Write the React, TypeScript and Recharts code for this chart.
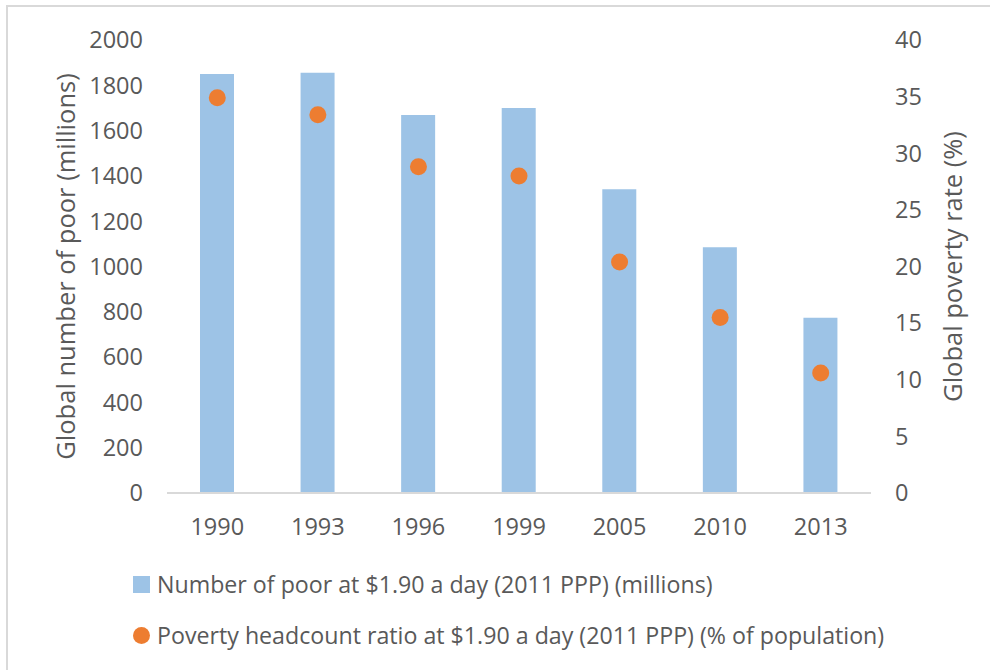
import React from "react"
import { ComposedChart, Bar, Line, XAxis, YAxis, Label } from "recharts"

const years = ["1990", "1993", "1996", "1999", "2005", "2010", "2013"]
const poorMillions = [1850, 1855, 1669, 1700, 1341, 1085, 774]
const povertyRate = [34.9, 33.4, 28.8, 28.0, 20.4, 15.5, 10.6]

const leftTicks = [0, 200, 400, 600, 800, 1000, 1200, 1400, 1600, 1800, 2000]
const rightTicks = [0, 5, 10, 15, 20, 25, 30, 35, 40]

const barName = "Number of poor at $1.90 a day (2011 PPP) (millions)"
const dotName = "Poverty headcount ratio at $1.90 a day (2011 PPP) (% of population)"

const BAR_COLOR = "#9DC3E6"
const DOT_COLOR = "#ED7D31"
const TEXT_COLOR = "#595959"
const FONT = "'Open Sans', sans-serif"

const data = years.map((year, i) => ({
  year,
  poor: poorMillions[i],
  rate: povertyRate[i],
}))

const tickStyle = { fill: TEXT_COLOR, fontSize: 23.5, fontFamily: FONT }

// rotated axis title, placed relative to the axis box
function axisTitle(text: string, shift: number) {
  return (props: any) => {
    const vb = props.viewBox || {}
    const cx = vb.x + shift
    const cy = vb.y + vb.height / 2
    return (
      <text
        x={cx}
        y={cy}
        transform={`rotate(-90 ${cx} ${cy})`}
        textAnchor="middle"
        dominantBaseline="central"
        fill={TEXT_COLOR}
        fontSize={25.5}
        fontFamily={FONT}
      >
        {text}
      </text>
    )
  }
}

function Dot(props: any) {
  const { cx, cy } = props
  if (cx == null || cy == null) return null
  return <circle cx={cx} cy={cy} r={8.5} fill={DOT_COLOR} />
}

export default function App() {
  return (
    <div
      style={{
        position: "absolute",
        left: 0,
        top: 0,
        width: 992,
        height: 670,
        background: "#fff",
        fontFamily: FONT,
      }}
    >
      <div
        style={{
          position: "absolute",
          left: 6,
          top: 5,
          width: 982,
          height: 670,
          borderTop: "2px solid #D9D9D9",
          borderLeft: "2px solid #D9D9D9",
        }}
      />
      <ComposedChart
        width={992}
        height={670}
        data={data}
        margin={{ top: 40, right: 21, left: 67, bottom: 117 }}
        style={{ position: "absolute", left: 0, top: 0 }}
      >
        <XAxis
          dataKey="year"
          tick={tickStyle}
          tickLine={false}
          tickMargin={19}
          axisLine={{ stroke: "#D9D9D9", strokeWidth: 2 }}
          height={60}
        />
        <YAxis
          yAxisId="left"
          domain={[0, 2000]}
          ticks={leftTicks}
          interval={0}
          tick={tickStyle}
          tickLine={false}
          axisLine={false}
          tickMargin={18}
          width={100}
        >
          <Label content={axisTitle("Global number of poor (millions)", -2)} />
        </YAxis>
        <YAxis
          yAxisId="right"
          orientation="right"
          domain={[0, 40]}
          ticks={rightTicks}
          interval={0}
          tick={{ ...tickStyle, textAnchor: "start" }}
          tickLine={false}
          axisLine={false}
          tickMargin={18}
          width={100}
        >
          <Label content={axisTitle("Global poverty rate (%)", 81)} />
        </YAxis>
        <Bar
          yAxisId="left"
          dataKey="poor"
          name={barName}
          fill={BAR_COLOR}
          barSize={34}
          isAnimationActive={false}
        />
        <Line
          yAxisId="right"
          dataKey="rate"
          name={dotName}
          stroke="none"
          dot={<Dot />}
          activeDot={false}
          isAnimationActive={false}
        />
      </ComposedChart>
      <div
        style={{
          position: "absolute",
          left: 133,
          top: 559,
          color: TEXT_COLOR,
          fontSize: 23.2,
          lineHeight: "51px",
          whiteSpace: "nowrap",
        }}
      >
        <div style={{ display: "flex", alignItems: "center" }}>
          <span
            style={{ width: 17, height: 17, background: BAR_COLOR, marginRight: 7, display: "inline-block" }}
          />
          {barName}
        </div>
        <div style={{ display: "flex", alignItems: "center" }}>
          <span
            style={{
              width: 17,
              height: 17,
              borderRadius: "50%",
              background: DOT_COLOR,
              marginRight: 7,
              display: "inline-block",
            }}
          />
          {dotName}
        </div>
      </div>
    </div>
  )
}
